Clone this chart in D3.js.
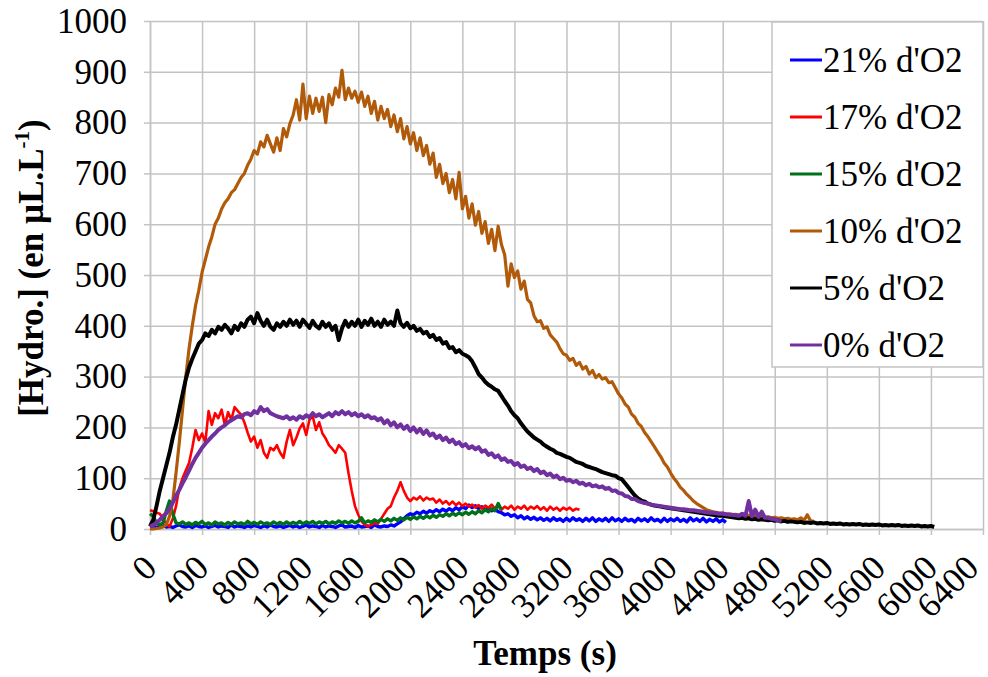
<!DOCTYPE html>
<html><head><meta charset="utf-8">
<script src="https://cdn.jsdelivr.net/npm/d3@7"></script>
<style>body{margin:0;background:#fff}svg text{font-family:"Liberation Serif","Times New Roman",serif;}</style>
</head><body><svg id="c" width="988" height="677"></svg>
<script>
// ---- data ----
const seriesNames = ["21% d'O2", "17% d'O2", "15% d'O2", "10% d'O2", "5% d'O2", "0% d'O2"];
const seriesColors = ["#0000ff", "#ff0000", "#00701a", "#b05a0a", "#000000", "#7030a0"];
const timeStep = 25; // seconds between readings, every series starts at t = 0
const xTickValues = [0, 400, 800, 1200, 1600, 2000, 2400, 2800, 3200, 3600, 4000, 4400, 4800, 5200, 5600, 6000, 6400];
const yTickValues = [0, 100, 200, 300, 400, 500, 600, 700, 800, 900, 1000];

const o2_21 = [4,6,3,5,7,4,5,3,6,8, 5,4,6,3,7,5,4,6,3,5, 7,4,6,5,3,8,4,6,5,3, 6,4,7,5,3,6,4,8,5,4, 6,3,5,7,4,6,3,5,8,4, 6,5,3,7,4,6,5,3,6,8, 4,5,6,3,7,4,5,6,3,8, 5,4,
  6,5,8,6,10,14,20,26,30,28, 33,30,35,31,36,33,38,34,39,35, 40,36,42,38,44,40,47,42,46,40,
  44,38,42,36,40,34,32,28,30,25, 28,22,26,20,24,19,23,18,22,17, 21,16,22,17,20,15,21,16,22,17,
  20,15,21,16,22,15,20,16,21,15, 22,16,20,15,21,16,19,14,21,16, 20,15,22,16,19,14,21,15,20,16,
  21,15,19,14,22,16,20,15,21,14, 19,15,20,14,18,13];
const o2_17 = [37,35,32,30,20,10,5,20,45,80, 100,115,130,160,195,175,188,170,232,205,
  228,218,235,205,230,215,240,232,225,210, 190,172,182,160,175,150,140,160,155,165,
  150,140,172,195,165,180,198,208,185,215, 222,195,210,188,178,165,158,150,165,158,
  150,110,75,45,28,15,8,5,8,12, 10,20,30,40,45,62,75,92,75,62,
  55,62,58,64,56,62,58,60,52,58, 50,55,48,54,47,52,45,50,44,48,
  42,47,40,46,42,48,40,45,38,44, 40,46,38,44,40,46,38,44,40,45,
  38,43,36,44,38,42,36,42,38,42, 36,40,38];
const o2_15 = [30,25,12,8,12,35,55,30,12,10, 14,9,12,8,13,10,15,9,12,8,
  14,10,12,8,13,9,14,10,12,9, 15,10,13,9,14,10,12,9,14,10,
  13,9,14,10,13,10,15,10,14,11, 15,10,14,11,15,10,14,11,16,12,
  15,11,16,12,15,22,12,16,13,18, 14,19,15,20,16,21,17,22,18,23,
  19,24,20,25,21,26,22,27,23,28, 25,30,26,31,27,32,28,33,29,34,
  30,36,32,38,34,40,36,50,38];
const o2_10 = [0,0,1,2,4,8,25,55,110,170, 235,300,355,400,440,470,505,530,555,575,
  600,612,630,642,650,662,668,680,692,700, 716,728,745,738,762,752,775,758,742,770,
  745,788,772,798,815,845,805,876,808,852, 818,848,822,850,800,855,835,868,850,903,
  845,868,848,862,840,860,832,852,818,842, 805,832,808,826,792,815,782,808,768,792,
  758,780,745,770,735,755,718,740,692,718, 680,700,662,688,650,702,630,655,612,640,
  598,625,582,605,562,590,548,596,560,540, 478,522,495,508,472,488,452,445,420,408,
  410,395,398,382,375,368,355,345,342,332, 336,322,328,315,320,305,312,298,304,295,
  298,288,290,278,266,258,246,240,226,220, 208,202,190,182,172,162,152,142,130,122,
  110,100,92,82,76,68,62,55,50,46, 42,38,36,34,33,31,32,29,30,28,
  29,27,28,26,27,25,26,24,25,23, 24,22,23,21,22,20,21,19,20,18,
  22,17,28,16,15];
const o2_5 = [5,18,45,75,100,125,150,180,205,235, 265,295,318,335,350,365,372,385,380,392,
  385,398,392,402,395,385,400,392,405,398, 412,418,405,425,410,400,412,398,392,405,
  398,408,400,412,402,410,398,412,404,396, 410,400,395,408,398,405,392,400,372,395,
  410,398,408,400,412,398,410,402,414,400, 408,398,412,402,408,400,430,405,398,406,
  395,400,390,394,385,388,378,382,372,376, 365,368,356,358,348,352,345,342,338,330,
  318,305,298,290,284,280,275,272,262,252, 243,232,224,218,208,200,192,186,180,176,
  172,166,162,158,155,150,148,145,142,140, 136,132,130,128,124,122,120,118,115,112,
  110,108,106,105,100,98,90,82,74,66, 60,56,54,50,48,46,45,44,43,42,
  41,40,39,38,37,36,35,34,33,32, 31,30,29,28,27,26,26,25,24,23,
  22,21,22,20,21,19,20,18,19,18, 17,18,16,17,15,16,14,15,14,13,
  14,12,13,12,13,11,12,11,12,10, 11,10,11,9,10,9,10,9,10,8,
  9,8,9,8,9,7,8,7,8,7, 8,6,7,6,7,6,7,5,6,5, 6,4];
const o2_0 = [5,8,12,18,25,31,40,52,65,77, 90,102,115,128,140,150,160,168,175,182,
  188,195,200,204,210,214,218,222,220,226, 228,224,232,228,240,232,236,228,225,222,
  220,218,222,216,220,215,222,218,224,220, 228,222,226,220,224,228,222,230,226,232,
  226,230,224,228,222,226,220,224,218,220, 214,218,208,214,204,210,200,206,197,203,
  193,200,190,197,187,194,184,188,179,184, 175,180,171,176,167,171,163,167,159,163,
  157,161,152,155,146,149,141,145,136,139, 132,134,126,130,122,125,118,121,114,118,
  110,113,106,109,102,105,98,101,95,97, 92,95,89,91,86,89,84,86,82,84,
  79,81,75,76,71,70,65,64,59,59, 55,53,51,50,48,47,46,45,44,43,
  42,41,40,39,39,38,37,37,36,35, 34,33,32,32,31,30,30,29,28,28,
  27,26,30,26,55,25,38,24,34,22, 22,20,19,17,14];
const seriesValues = [o2_21, o2_17, o2_15, o2_10, o2_5, o2_0];
const seriesWidths = [3.4, 2.6, 3.4, 3.2, 4, 4];

// ---- chart ----
const svg = d3.select("#c");
const x = d3.scaleLinear().domain([0, 6400]).range([150, 983]);
const y = d3.scaleLinear().domain([0, 1000]).range([529, 21]);
const gridColor = "#c3c3c3";
const FS = 35;

// grid
svg.append("g").attr("transform", "translate(0,529)")
  .call(d3.axisBottom(x).tickValues(xTickValues).tickSize(-(529 - 21)).tickFormat(""))
  .call(g => { g.select(".domain").remove(); g.selectAll("line").attr("stroke", gridColor).attr("stroke-width", 1.5); });
svg.append("g").attr("transform", "translate(150,0)")
  .call(d3.axisLeft(y).tickValues(yTickValues).tickSize(-(983 - 150)).tickFormat(""))
  .call(g => { g.select(".domain").remove(); g.selectAll("line").attr("stroke", gridColor).attr("stroke-width", 1.5); });

// axes
const ax = svg.append("g").attr("transform", "translate(0,529)")
  .call(d3.axisBottom(x).tickValues(xTickValues).tickSize(6).tickSizeOuter(0).tickFormat(d3.format("d")));
ax.select(".domain").attr("stroke", gridColor).attr("stroke-width", 1.5);
ax.selectAll("line").attr("stroke", gridColor).attr("stroke-width", 1.5);
ax.selectAll("text").attr("font-size", FS).attr("font-family", "Liberation Serif, serif").attr("fill", "#000")
  .attr("text-anchor", "end").attr("dy", null).attr("y", null)
  .attr("transform", d => `translate(${Math.min(8, 980 - x(d))},41) rotate(-45)`);

const ay = svg.append("g").attr("transform", "translate(150,0)")
  .call(d3.axisLeft(y).tickValues(yTickValues).tickSize(6).tickSizeOuter(0).tickPadding(17).tickFormat(d3.format("d")));
ay.select(".domain").attr("stroke", gridColor).attr("stroke-width", 1.5);
ay.selectAll("line").attr("stroke", gridColor).attr("stroke-width", 1.5);
ay.selectAll("text").attr("font-size", FS).attr("font-family", "Liberation Serif, serif").attr("fill", "#000");

// series
const line = d3.line().x((d, i) => x(i * timeStep)).y(d => y(d));
seriesValues.forEach((vals, k) => {
  svg.append("path").datum(vals).attr("d", line)
    .attr("fill", "none").attr("stroke", seriesColors[k]).attr("stroke-width", seriesWidths[k])
    .attr("stroke-linejoin", "round");
});

// legend
const lg = svg.append("g");
lg.append("rect").attr("x", 772).attr("y", 22).attr("width", 211).attr("height", 345)
  .attr("fill", "#fff").attr("stroke", gridColor).attr("stroke-width", 1.5);
seriesNames.forEach((name, k) => {
  const cy = 60 + k * 57;
  lg.append("line").attr("x1", 790).attr("x2", 822).attr("y1", cy).attr("y2", cy)
    .attr("stroke", seriesColors[k]).attr("stroke-width", 3);
  lg.append("text").attr("x", 823).attr("y", cy).attr("dy", "0.33em").attr("font-size", FS).text(name);
});

// titles
svg.append("text").attr("x", 545).attr("y", 665).attr("text-anchor", "middle")
  .attr("font-size", FS).attr("font-weight", "bold").text("Temps (s)");
const yt = svg.append("text").attr("transform", "translate(43,268) rotate(-90)")
  .attr("text-anchor", "middle").attr("font-size", FS).attr("font-weight", "bold");
yt.append("tspan").text("[Hydro.] (en µL.L");
yt.append("tspan").attr("font-size", 21).attr("dy", -14).text("-1");
yt.append("tspan").attr("dy", 14).text(")");
</script></body></html>
